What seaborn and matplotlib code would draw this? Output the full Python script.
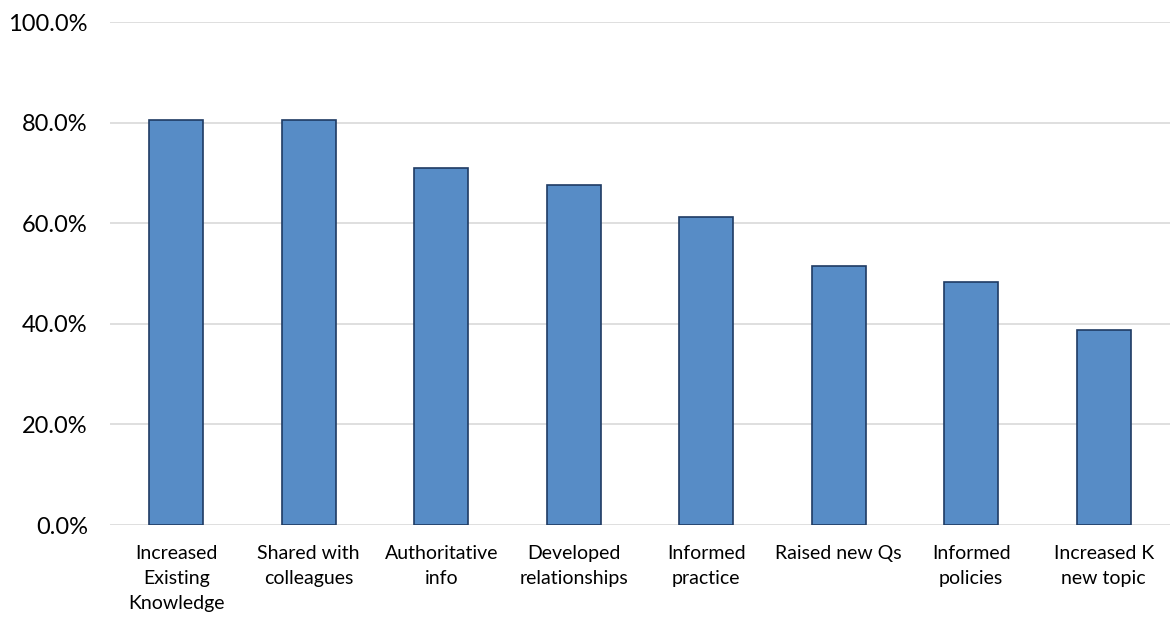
import matplotlib
matplotlib.use("Agg")
import matplotlib.pyplot as plt
import seaborn as sns
import pandas as pd
from matplotlib.ticker import FuncFormatter

categories = [
    "Increased\nExisting\nKnowledge",
    "Shared with\ncolleagues",
    "Authoritative\ninfo",
    "Developed\nrelationships",
    "Informed\npractice",
    "Raised new Qs",
    "Informed\npolicies",
    "Increased K\nnew topic",
]
values = [80.6, 80.6, 71.0, 67.7, 61.3, 51.6, 48.4, 38.7]
y_ticks = [0, 20, 40, 60, 80, 100]

df = pd.DataFrame({"category": categories, "value": values})

sns.set_style("white")
plt.rcParams["font.family"] = ["Lato", "DejaVu Sans"]

fig = plt.figure(figsize=(11.7, 6.17), dpi=100)
ax = fig.add_axes([0.094, 0.149, 0.906, 0.815])

sns.barplot(data=df, x="category", y="value", ax=ax, color="#578CC6",
            edgecolor="#1F3B63", linewidth=1.2, width=0.41, saturation=1)

ax.set_ylim(0, 100)
ax.set_yticks(y_ticks)
ax.yaxis.set_major_formatter(FuncFormatter(lambda v, p: f"{v:.1f}%"))
ax.yaxis.grid(True, color="#D9D9D9", linewidth=1.2)
ax.set_axisbelow(True)
for s in ax.spines.values():
    s.set_visible(False)
ax.tick_params(axis="both", length=0, colors="black")
ax.tick_params(axis="x", pad=14, labelsize=14)
ax.tick_params(axis="y", pad=16, labelsize=17)
ax.set_xlabel("")
ax.set_ylabel("")
for lbl in ax.get_xticklabels():
    lbl.set_linespacing(1.6)

fig.savefig("out.png", dpi=100)
